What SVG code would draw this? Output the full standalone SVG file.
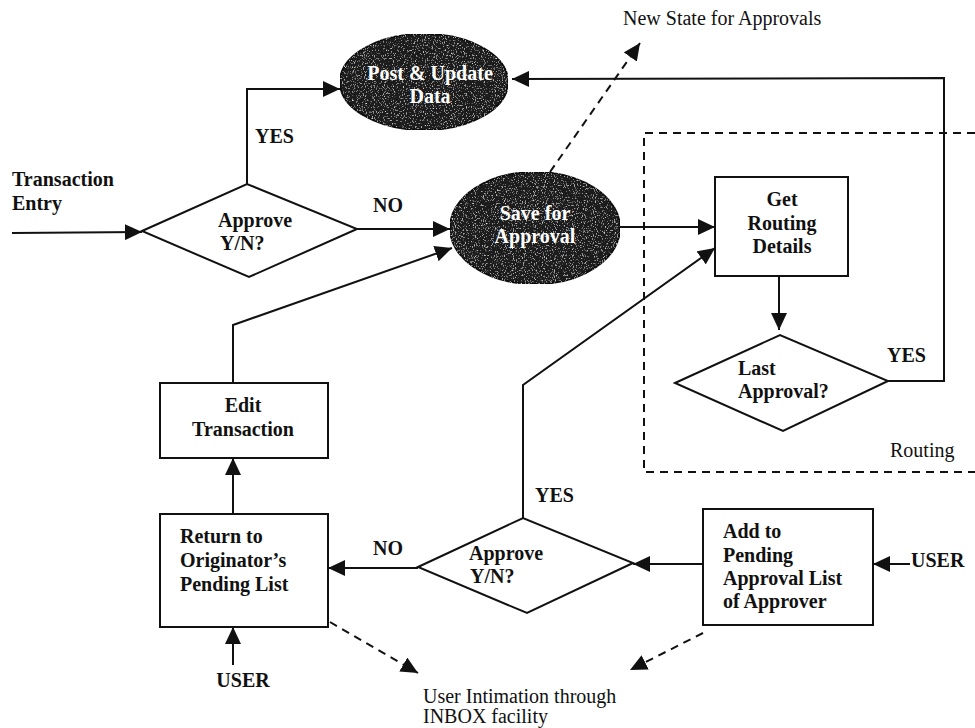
<svg xmlns="http://www.w3.org/2000/svg" width="975" height="728" viewBox="0 0 975 728">
  <style>
    .t { font-family: "Liberation Serif", "Times New Roman", serif; font-size: 20px; fill: #111; }
    .b { font-weight: bold; }
    .w { fill: #fff; font-weight: bold; }
    .mid { text-anchor: middle; }
    .box { fill: #fff; stroke: #111; stroke-width: 2; }
    .oval { fill: #1e1e1e; stroke: #111; stroke-width: 2; }
    .ln { fill: none; stroke: #111; stroke-width: 2; }
    .dash { fill: none; stroke: #111; stroke-width: 2; stroke-dasharray: 8 6; }
  </style>
  <defs>
    <marker id="ah" markerUnits="userSpaceOnUse" markerWidth="18" markerHeight="16" refX="17" refY="8" orient="auto">
      <path d="M0,0 L17,8 L0,16 z" fill="#111"/>
    </marker>
    <!-- halftone grain for the dark ovals -->
    <filter id="grain" x="0" y="0" width="100%" height="100%">
      <feTurbulence type="fractalNoise" baseFrequency="0.9 0.6" numOctaves="2" seed="7" result="noise"/>
      <feColorMatrix in="noise" type="matrix" values="0 0 0 0 0.75  0 0 0 0 0.75  0 0 0 0 0.75  3.2 0 0 0 -1.85" result="specks"/>
      <feComposite in="specks" in2="SourceAlpha" operator="in" result="clipped"/>
      <feMerge><feMergeNode in="SourceGraphic"/><feMergeNode in="clipped"/></feMerge>
    </filter>
  </defs>

  <rect width="975" height="728" fill="#fff"/>

  <!-- connectors -->
  <g id="connectors">
    <line class="ln" x1="12" y1="233" x2="142" y2="232" marker-end="url(#ah)"/>
    <polyline class="ln" points="247,184 247,89 340,89" marker-end="url(#ah)"/>
    <line class="ln" x1="357" y1="229" x2="450" y2="229" marker-end="url(#ah)"/>
    <polyline class="ln" points="233,383 233,325 452,248" marker-end="url(#ah)"/>
    <line class="ln" x1="620" y1="227" x2="715" y2="227" marker-end="url(#ah)"/>
    <line class="ln" x1="779" y1="276" x2="779" y2="330" marker-end="url(#ah)"/>
    <polyline class="ln" points="888,381 944,381 944,78 512,79" marker-end="url(#ah)"/>
    <polyline class="ln" points="523,518 523,385 715,248" marker-end="url(#ah)"/>
    <line class="ln" x1="703" y1="564" x2="633" y2="564" marker-end="url(#ah)"/>
    <line class="ln" x1="910" y1="564" x2="873" y2="564" marker-end="url(#ah)"/>
    <line class="ln" x1="418" y1="568" x2="328" y2="568" marker-end="url(#ah)"/>
    <line class="ln" x1="233" y1="514" x2="233" y2="458" marker-end="url(#ah)"/>
    <line class="ln" x1="233" y1="665" x2="233" y2="627" marker-end="url(#ah)"/>
    <line class="dash" x1="550" y1="172" x2="640" y2="43" marker-end="url(#ah)"/>
    <line class="dash" x1="330" y1="622" x2="418" y2="673" marker-end="url(#ah)"/>
    <line class="dash" x1="703" y1="633" x2="630" y2="670" marker-end="url(#ah)"/>
  </g>

  <!-- routing boundary -->
  <g id="routing">
    <path class="dash" d="M975,133 L644,133 L644,472 L975,472"/>
    <text class="t" x="890" y="457">Routing</text>
  </g>

  <!-- nodes -->
  <g id="post-update">
    <ellipse class="oval" cx="424" cy="82" rx="84" ry="48" filter="url(#grain)"/>
    <text class="t w mid" x="430" y="80">Post &amp; Update</text>
    <text class="t w mid" x="430" y="103">Data</text>
  </g>

  <g id="save-approval">
    <ellipse class="oval" cx="535" cy="228" rx="85" ry="56" filter="url(#grain)"/>
    <text class="t w mid" x="535" y="220">Save for</text>
    <text class="t w mid" x="535" y="243">Approval</text>
  </g>

  <g id="approve-1">
    <polygon class="box" points="142,231 247,184 357,229 249,277"/>
    <text class="t b" x="218" y="227">Approve</text>
    <text class="t b" x="220" y="250">Y/N?</text>
  </g>

  <g id="get-routing">
    <rect class="box" x="715" y="177" width="133" height="99"/>
    <text class="t b mid" x="782" y="206">Get</text>
    <text class="t b mid" x="782" y="230">Routing</text>
    <text class="t b mid" x="782" y="253">Details</text>
  </g>

  <g id="last-approval">
    <polygon class="box" points="675,383 780,335 888,381 783,431"/>
    <text class="t b" x="738" y="375">Last</text>
    <text class="t b" x="738" y="398">Approval?</text>
  </g>

  <g id="edit-transaction">
    <rect class="box" x="160" y="383" width="168" height="75"/>
    <text class="t b mid" x="243" y="412">Edit</text>
    <text class="t b mid" x="243" y="436">Transaction</text>
  </g>

  <g id="return-originator">
    <rect class="box" x="160" y="514" width="168" height="113"/>
    <text class="t b" x="180" y="543">Return to</text>
    <text class="t b" x="180" y="567">Originator’s</text>
    <text class="t b" x="180" y="591">Pending List</text>
  </g>

  <g id="approve-2">
    <polygon class="box" points="418,567 523,518 633,563 527,613"/>
    <text class="t b" x="469" y="560">Approve</text>
    <text class="t b" x="470" y="583">Y/N?</text>
  </g>

  <g id="add-pending">
    <rect class="box" x="703" y="509" width="170" height="116"/>
    <text class="t b" x="723" y="538">Add to</text>
    <text class="t b" x="723" y="562">Pending</text>
    <text class="t b" x="723" y="585">Approval List</text>
    <text class="t b" x="723" y="608">of Approver</text>
  </g>

  <!-- labels -->
  <g id="labels">
    <text class="t b" x="12" y="186">Transaction</text>
    <text class="t b" x="12" y="210">Entry</text>
    <text class="t b" x="255" y="143">YES</text>
    <text class="t b" x="373" y="212">NO</text>
    <text class="t" x="623" y="25">New State for Approvals</text>
    <text class="t b" x="887" y="362">YES</text>
    <text class="t b" x="535" y="502">YES</text>
    <text class="t b" x="373" y="555">NO</text>
    <text class="t b" x="911" y="567">USER</text>
    <text class="t b mid" x="243" y="687">USER</text>
    <text class="t" x="423" y="703">User Intimation through</text>
    <text class="t" x="423" y="723">INBOX facility</text>
  </g>
</svg>
